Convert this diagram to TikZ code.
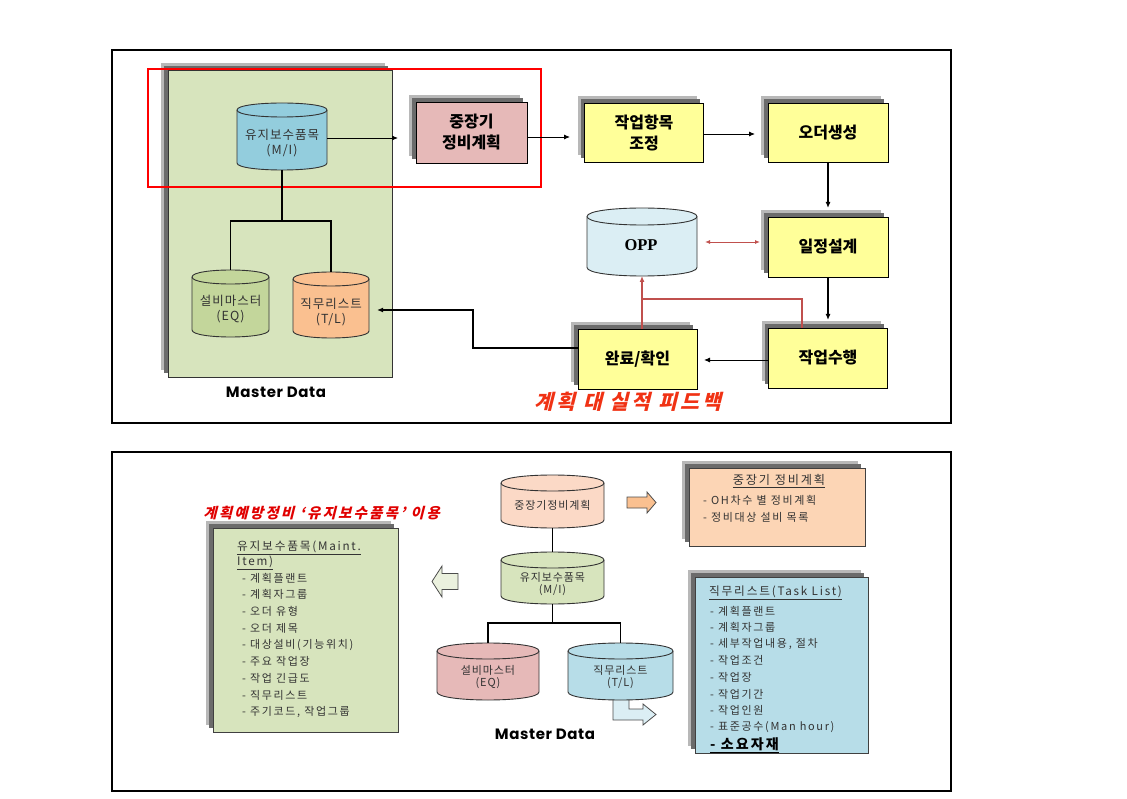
\documentclass[tikz,border=0pt]{standalone}
\usepackage{fontspec}
\setmainfont{Noto Sans CJK KR}
\newfontfamily\krsl{Noto Sans CJK KR}[FakeSlant=0.25,LetterSpace=15]
\newfontfamily\krsp{Noto Sans CJK KR}[LetterSpace=15]
\newfontfamily\krcy{Noto Sans CJK KR}[LetterSpace=8]
\newfontfamily\popf{Poppins}[LetterSpace=4]
\newfontfamily\serf{Liberation Serif}
\usetikzlibrary{arrows.meta}
\definecolor{mdgreen}{HTML}{D7E4BD}
\definecolor{miblue}{HTML}{93CDDD}
\definecolor{pinkc}{HTML}{E6B9B8}
\definecolor{yel}{HTML}{FFFF99}
\definecolor{oppc}{HTML}{DBEEF4}
\definecolor{eqgreen}{HTML}{C3D69B}
\definecolor{tlorange}{HTML}{FAC090}
\definecolor{peachc}{HTML}{FBD9C6}
\definecolor{peachbox}{HTML}{FCD5B5}
\definecolor{bluec}{HTML}{B7DDE8}
\definecolor{lgreen}{HTML}{EBF1DE}
\definecolor{fbc}{HTML}{C0504D}
\definecolor{fbtxt}{HTML}{F03214}
\definecolor{hred}{HTML}{E00000}
% cylinder: name, x1, x2, ytop, ybot, r, fill
\newcommand\mycyl[7]{%
  \pgfmathsetmacro\cA{#4+#6}%
  \pgfmathsetmacro\cB{#5-#6}%
  \pgfmathsetmacro\cT{#4-#6/3}%
  \pgfmathsetmacro\cL{#5+#6/3}%
  \pgfmathsetmacro\cM{#4+7*#6/3}%
  \pgfmathsetmacro\cW{#3-#2}%
  \pgfmathsetmacro\cH{#5-#4}%
  \filldraw[fill=#7, draw=black!80, line width=0.9pt] (#2,\cA) -- (#2,\cB) .. controls (#2,\cL) and (#3,\cL) .. (#3,\cB) -- (#3,\cA) .. controls (#3,\cT) and (#2,\cT) .. cycle;
  \draw[black!80, line width=0.9pt] (#2,\cA) .. controls (#2,\cM) and (#3,\cM) .. (#3,\cA);
  \node[inner sep=0pt, outer sep=0pt, minimum width=\cW pt, minimum height=\cH pt] (#1) at ({(#2+#3)/2},{(#4+#5)/2}) {};
}
\begin{document}
\begin{tikzpicture}[x=1pt,y=-1pt,
  shd/.style={preaction={fill=black!28,transform canvas={shift={(-7pt,7pt)}}},
              preaction={fill=black!58,transform canvas={shift={(-4pt,4pt)}}}},
  tbox/.style={shd,draw=black,line width=0.8pt,minimum width=119pt,minimum height=60pt,inner sep=0pt,outer sep=0pt,align=center,font=\fontsize{16}{21}\selectfont\bfseries},
  arr/.style={line width=0.9pt,-{Latex[length=6pt,width=5pt]}},
  arrt/.style={line width=1.6pt,-{Latex[length=6pt,width=5pt]}},
  dbl/.style={fbc,line width=0.9pt,{Latex[length=5pt,width=4pt]}-{Latex[length=5pt,width=4pt]}},
  fb/.style={fbc,line width=2pt},
  ln/.style={line width=1.3pt},
  ctext/.style={align=center,inner sep=0pt,text=black!80,font=\krcy\fontsize{12.5}{15}\selectfont},
  btext/.style={align=center,inner sep=0pt,text=black!80,font=\krcy\fontsize{11}{12.5}\selectfont},
  lst/.style={anchor=west,inner sep=0pt,text=black!80,font=\krsp\fontsize{11}{12}\selectfont},
  lsth/.style={inner sep=0pt,text=black!80,font=\krsp\fontsize{11.7}{13}\selectfont},
  mdlabel/.style={font=\popf\bfseries\fontsize{15}{17}\selectfont},
  listbox/.style={shd,draw=black!75,line width=0.8pt,inner sep=0pt,outer sep=0pt}
]
\useasboundingbox (0,0) rectangle (1127,799);
% panel frames
\draw[line width=1.2pt] (112,50) rectangle (951,423);
\draw[line width=1.2pt] (112,452) rectangle (951,791);

%================ TOP PANEL ================
\node[listbox,draw=black!80,fill=mdgreen,minimum width=224pt,minimum height=307pt] (md) at (280,223.5) {};
\draw[red,line width=2pt] (148,69) rectangle (541,187);

\mycyl{mi}{237}{327}{103}{170}{7}{miblue}
\node[ctext] (mit) at (282,143.5) {유지보수품목\\(M/I)};
\mycyl{eq}{192}{269}{270}{337}{7}{eqgreen}
\node[ctext] (eqt) at (230.5,309) {설비마스터\\(EQ)};
\mycyl{tl}{293}{369}{272}{338}{7}{tlorange}
\node[ctext] (tlt) at (331,312) {직무리스트\\(T/L)};
\mycyl{opp}{587}{697}{208}{276}{8.5}{oppc}
\node[font=\serf\bfseries\fontsize{16.5}{18}\selectfont] (oppt) at (641,245) {OPP};

\node[tbox,fill=pinkc,minimum width=111pt,minimum height=61pt] (plan) at (471.5,132.5) {중장기\\정비계획};
\node[tbox,fill=yel,minimum height=59pt] (adj) at (644,132.5) {작업항목\\조정};
\node[tbox,fill=yel,minimum width=120pt,minimum height=59pt] (ord) at (828,132.5) {오더생성};
\node[tbox,fill=yel,minimum width=120pt] (sch) at (828,247) {일정설계};
\node[tbox,fill=yel] (exe) at (828,358) {작업수행};
\node[tbox,fill=yel] (done) at (637.5,359) {완료/확인};

% tree
\coordinate (j1) at (282,221);
\draw[ln] (mi.south) -- (j1);
\draw[ln] (eq.north) |- (j1) -| (tl.north);

% flow connectors
\coordinate (a1) at (398,138);
\draw[arr] (mi.east |- a1) -- (a1);
\coordinate (a2) at (570,137);
\draw[arr] (plan.east |- a2) -- (a2);
\coordinate (a3) at (755,134);
\draw[arr] (adj.east |- a3) -- (a3);
\draw[arrt] (ord.south) -- ([yshift=9pt]sch.north);
\draw[arrt] (sch.south) -- ([yshift=8pt]exe.north);
\coordinate (a5) at (704,360);
\draw[arr] (exe.west |- a5) -- (a5);
\draw[dbl] ([xshift=8pt]opp.east) -- ([xshift=-8pt,yshift=5pt]sch.west);
% feedback
\coordinate (fbj) at (642,299);
\coordinate (fbr) at (802,299);
\draw[fb,-{Latex[length=6pt,width=5pt]}] (done.north -| fbj) -- (opp.south -| fbj);
\draw[fb] (exe.north -| fbr) -- (fbr) -- (fbj);
% back to task list
\coordinate (c1) at (473,348);
\coordinate (c2) at (377,310);
\draw[arrt,line width=1.4pt] (done.west |- c1) -- (c1) |- (c2);

\node[mdlabel] (mdl) at (276,392) {Master Data};
\node[text=fbtxt,font=\krsl\bfseries\fontsize{20.5}{23}\selectfont] (fbl) at (628,402) {계획 대 실적 피드백};

%================ BOTTOM PANEL ================
\node[text=hred,font=\krsl\bfseries\fontsize{14.5}{16}\selectfont] (h2) at (321.5,513) {계획예방정비 ‘유지보수품목’ 이용};

% maintenance item list box
\node[listbox,fill=mdgreen,minimum width=185pt,minimum height=204pt] (mlist) at (305.5,630) {};
\node[lsth,anchor=west] (mlt1) at (237,548) {\underline{유지보수품목(Maint.}};
\node[lsth,anchor=west] (mlt2) at (237,563) {\underline{Item)}};
\foreach \t [count=\i] in {- 계획플랜트,- 계획자그룹,- 오더 유형,- 오더 제목,- 대상설비(기능위치),- 주요 작업장,- 작업 긴급도,- 직무리스트,{- 주기코드, 작업그룹}}
  \node[lst] (gl\i) at (242,{578+16.75*(\i-1)}) {\t};

% hollow arrows
\filldraw[fill=lgreen,draw=black!70,line width=0.8pt] (432,581.5) -- (442,566) -- (442,573.5) -- (458,573.5) -- (458,589.5) -- (442,589.5) -- (442,597) -- cycle;
\filldraw[fill=tlorange,draw=black!70,line width=0.8pt] (656,502.5) -- (647,492) -- (647,497) -- (627,497) -- (627,508) -- (647,508) -- (647,513) -- cycle;
\filldraw[fill=oppc,draw=black!70,line width=0.8pt] (613,699) -- (629,699) -- (629,709) -- (643,709) -- (643,704) -- (656,714.5) -- (643,725) -- (643,720) -- (613,720) -- cycle;

% cylinders
\mycyl{pmc}{501}{604}{475}{528}{8}{peachc}
\node[btext] (pmct) at (552.5,505) {중장기정비계획};
\mycyl{mi2}{501}{604}{552}{604}{8}{mdgreen}
\node[btext] (mi2t) at (552.5,584) {유지보수품목\\(M/I)};
\mycyl{eq2}{437}{539}{643}{700}{8}{pinkc}
\node[btext] (eq2t) at (488,677) {설비마스터\\(EQ)};
\mycyl{tl2}{568}{673}{643}{700}{8}{bluec}
\node[btext] (tl2t) at (620.5,677) {직무리스트\\(T/L)};
\coordinate (j2) at (552.5,623);
\draw[ln] (pmc.south) -- (mi2.north);
\draw[ln] (mi2.south) -- (j2);
\draw[ln] (eq2.north) |- (j2) -| (tl2.north);
\node[mdlabel] (mdl2) at (545,734) {Master Data};

% mid-term plan box
\node[listbox,fill=peachbox,minimum width=176pt,minimum height=78pt] (pbox) at (777,507) {};
\node[lsth,font=\krsp\fontsize{12.2}{14}\selectfont] (pbt) at (779,481) {\underline{중장기 정비계획}};
\node[lst] (pb1) at (703,500) {- OH차수 별 정비계획};
\node[lst] (pb2) at (703,517) {- 정비대상 설비 목록};

% task list box
\node[listbox,fill=bluec,minimum width=173pt,minimum height=176pt] (tbx) at (781.5,665) {};
\node[lsth,anchor=west] (tbt) at (709,593) {\underline{직무리스트(Task List)}};
\foreach \t [count=\i] in {- 계획플랜트,- 계획자그룹,{- 세부작업내용, 절차},- 작업조건,- 작업장,- 작업기간,- 작업인원,- 표준공수(Man hour)}
  \node[lst] (tk\i) at (710,{611+16.6*(\i-1)}) {\t};
\node[lst,text=black,font=\krsp\bfseries\fontsize{14}{16}\selectfont] (tk9) at (710,745) {\underline{- 소요자재}};
\end{tikzpicture}
\end{document}
